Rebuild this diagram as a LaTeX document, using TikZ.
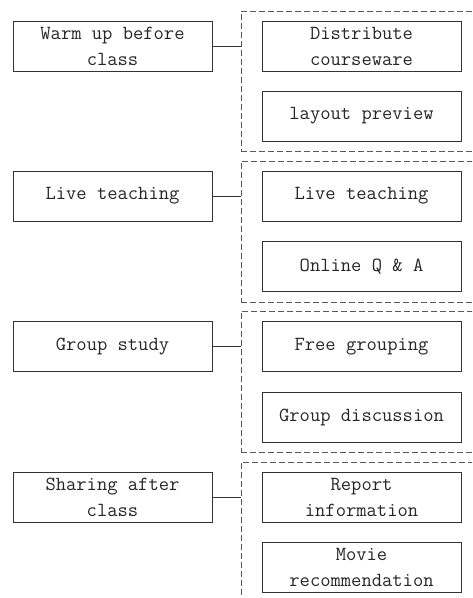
\documentclass[tikz,border=0pt]{standalone}
\usepackage{fontspec}
\begin{document}
\begin{tikzpicture}[x=1pt,y=-1pt,
  box/.style={draw=black!80, line width=1pt, minimum width=199pt, minimum height=50pt,
    inner sep=0pt, align=center, text=black!85,
    font=\fontsize{20}{26}\selectfont\ttfamily},
  grp/.style={draw=black!65, line width=1pt, dash pattern=on 6pt off 3pt,
    minimum width=239pt, inner sep=0pt},
  link/.style={draw=black!80, line width=1pt}]
\useasboundingbox (0,0) rectangle (472,598);
\clip (0,0) rectangle (472,598);
% group 1
\node[grp, minimum height=140pt] (g1) at (360.5,81) {};
\node[box] (l1) at (112.5,46) {Warm up before\\class};
\node[box] (r11) at (361.5,46) {Distribute\\courseware};
\node[box] (r12) at (361.5,116) {layout preview};
\draw[link] (l1.east) -- (l1.east -| g1.west);
% group 2
\node[grp, minimum height=141pt] (g2) at (360.5,231.5) {};
\node[box] (l2) at (112.5,196) {Live teaching};
\node[box] (r21) at (361.5,196) {Live teaching};
\node[box] (r22) at (361.5,266.5) {Online Q \& A};
\draw[link] (l2.east) -- (l2.east -| g2.west);
% group 3
\node[grp, minimum height=141pt] (g3) at (360.5,381.5) {};
\node[box] (l3) at (112.5,346.5) {Group study};
\node[box] (r31) at (361.5,346.5) {Free grouping};
\node[box] (r32) at (361.5,417) {Group discussion};
\draw[link] (l3.east) -- (l3.east -| g3.west);
% group 4
\node[grp, minimum height=160pt] (g4) at (360.5,542) {};
\node[box] (l4) at (112.5,497) {Sharing after\\class};
\node[box] (r41) at (361.5,497) {Report\\information};
\node[box] (r42) at (361.5,567.5) {Movie\\recommendation};
\draw[link] (l4.east) -- (l4.east -| g4.west);
\end{tikzpicture}
\end{document}
